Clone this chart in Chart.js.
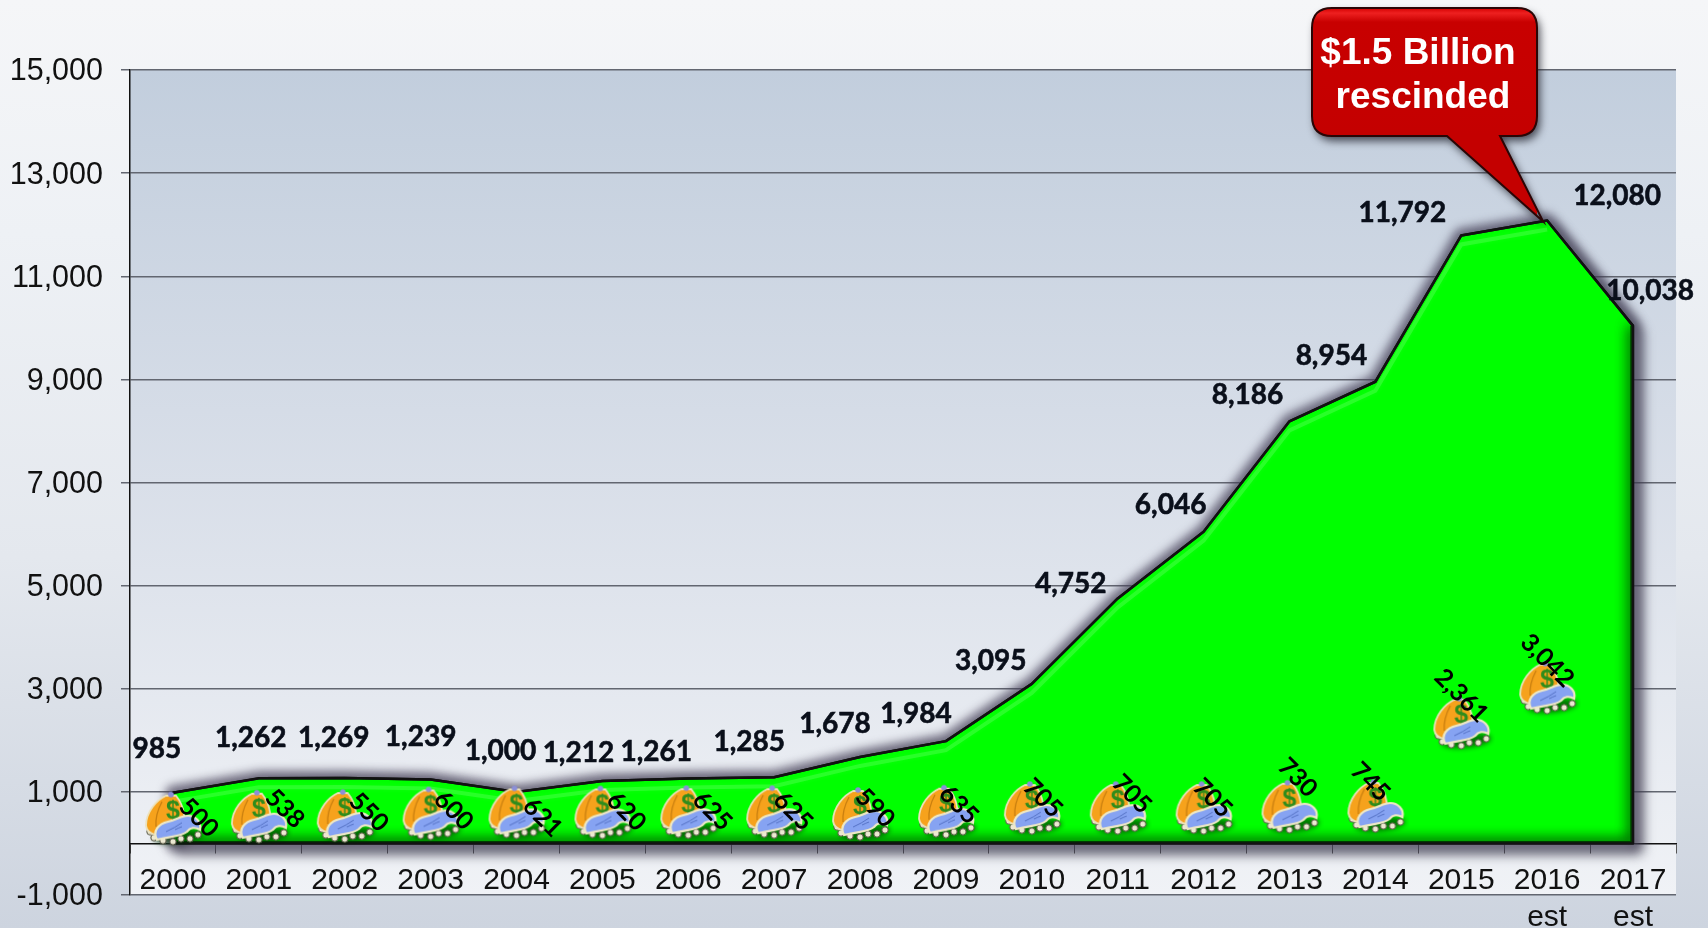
<!DOCTYPE html>
<html>
<head>
<meta charset="utf-8">
<script src="https://cdn.jsdelivr.net/npm/chart.js@4"></script>
<style>
  html, body { margin: 0; padding: 0; width: 1708px; height: 928px; overflow: hidden; }
  body { background: linear-gradient(to bottom, #f5f6f8 0%, #eef1f5 25%, #e4e8ee 60%, #cdd4df 100%); }
  canvas { display: block; }
</style>
</head>
<body>
<canvas id="mycanvas" width="1708" height="928"></canvas>
<script>
var years = ["2000","2001","2002","2003","2004","2005","2006","2007","2008","2009","2010","2011","2012","2013","2014","2015","2016","2017"];
var yearNotes = ["","","","","","","","","","","","","","","","","est","est"];
var totalValues = [985,1262,1269,1239,1000,1212,1261,1285,1678,1984,3095,4752,6046,8186,8954,11792,12080,10038];
var bagValues = [500,538,550,600,621,620,625,625,590,635,705,705,705,730,745,2361,3042,null];

// where each value label sits, relative to its point (picked by eye)
var totalLabelDx = [-16,-8,-11,-10,-16,-24,-32,-25,-25,-30,-41,-47,-33,-42,-44,-59,70,17];
var totalLabelDy = [-44,-40,-40,-43,-41,-28,-26,-35,-33,-27,-23,-14,-27,-26,-26,-22,-25,-35];
var bagLabelDx = [26,26,24,23,26,24,24,19,15,13,11,14,9,8,-5,0,0];
var bagLabelDy = [0,-7,-3,-2,6,0,0,0,-5,-6,-9,-13,-9,-28,-23,-26,-26];

var FONT_AXIS = '"Liberation Sans", Arial, sans-serif';
var FONT_LABEL = 'Lato, "Open Sans", sans-serif';

function makeBagIcon() {
  var c = document.createElement("canvas");
  c.width = 68; c.height = 68;
  var g = c.getContext("2d");
  g.translate(34, 33);

  // soft shadow under the whole icon
  g.save();
  g.filter = "blur(2.5px)";
  g.fillStyle = "rgba(0,50,0,0.65)";
  g.beginPath();
  g.ellipse(5, 20, 25, 7, -0.1, 0, Math.PI * 2);
  g.fill();
  g.restore();

  // stones under the cloth
  g.fillStyle = "#ece9d2";
  g.strokeStyle = "#4f4e3c";
  g.lineWidth = 1;
  var stones = [[-23,15],[-19,21],[-10,24],[0,25],[8,22],[17,22],[25,18]];
  stones.forEach(function (s) {
    g.beginPath();
    g.arc(s[0], s[1], 3.2, 0, Math.PI * 2);
    g.fill();
    g.stroke();
  });

  // bag
  g.beginPath();
  g.moveTo(-7, -21);
  g.bezierCurveTo(-16, -17, -27, -5, -27, 9);
  g.quadraticCurveTo(-26, 16, -18, 18);
  g.lineTo(8, 12);
  g.bezierCurveTo(14, 7, 12, -10, 3, -21);
  g.closePath();
  g.fillStyle = "#f6a21c";
  g.fill();
  g.strokeStyle = "#ece2bb";
  g.lineWidth = 1.8;
  g.stroke();

  // fold shading on the bag
  g.strokeStyle = "#c97f10";
  g.lineWidth = 1.3;
  g.beginPath();
  g.moveTo(-11, -15);
  g.quadraticCurveTo(-18, -2, -17, 10);
  g.stroke();

  // knot
  g.fillStyle = "#8b8fd8";
  g.beginPath();
  g.arc(-2, -22, 2.8, 0, Math.PI * 2);
  g.fill();

  // dollar sign
  g.fillStyle = "#2f8c1c";
  g.font = "bold 25px " + FONT_AXIS;
  g.textAlign = "center";
  g.textBaseline = "middle";
  g.fillText("$", 0, -5);

  // blue cloth
  g.beginPath();
  g.moveTo(-16, 23);
  g.bezierCurveTo(-21, 14, -14, 7, -5, 5);
  g.bezierCurveTo(4, 3, 8, -1, 15, -1);
  g.bezierCurveTo(22, -1, 29, 5, 27, 13);
  g.bezierCurveTo(22, 10, 17, 11, 14, 15);
  g.bezierCurveTo(8, 20, 0, 19, -16, 23);
  g.closePath();
  g.fillStyle = "#86a3f2";
  g.fill();
  g.strokeStyle = "#efe9c6";
  g.lineWidth = 2.2;
  g.stroke();

  g.strokeStyle = "#4f6cc0";
  g.lineWidth = 0.9;
  g.beginPath();
  g.moveTo(-7, 15);
  g.quadraticCurveTo(2, 11, 9, 6);
  g.moveTo(2, 13);
  g.quadraticCurveTo(6, 11, 9, 10);
  g.stroke();
  return c;
}

function areaPoints(chart) {
  return chart.getDatasetMeta(0).data;
}

function tracePolygon(chart, ctx) {
  var pts = areaPoints(chart);
  var base = chart.scales.y.getPixelForValue(0);
  ctx.beginPath();
  ctx.moveTo(pts[0].x, base);
  pts.forEach(function (p) { ctx.lineTo(p.x, p.y); });
  ctx.lineTo(pts[pts.length - 1].x, base);
  ctx.closePath();
}

// plot background gradient, runs before the grid
var plotBackground = {
  id: "plotBackground",
  beforeDraw: function (chart) {
    var a = chart.chartArea, ctx = chart.ctx;
    var grad = ctx.createLinearGradient(0, a.top, 0, a.bottom);
    grad.addColorStop(0, "#c2cedd");
    grad.addColorStop(0.5, "#d9dfe9");
    grad.addColorStop(1, "#f0f2f6");
    ctx.save();
    ctx.fillStyle = grad;
    ctx.fillRect(a.left, a.top, a.right - a.left, a.bottom - a.top);
    ctx.restore();
  }
};

// shadow + bevel around the green area
var areaEffects = {
  id: "areaEffects",
  beforeDatasetDraw: function (chart, args) {
    if (args.index !== 0) return;
    var ctx = chart.ctx;

    // halo all the way round
    ctx.save();
    ctx.filter = "blur(5px)";
    tracePolygon(chart, ctx);
    ctx.strokeStyle = "rgba(70,64,88,0.7)";
    ctx.lineWidth = 15;
    ctx.lineJoin = "round";
    ctx.stroke();
    ctx.restore();

    // heavier shadow to the lower right
    ctx.save();
    ctx.filter = "blur(6px)";
    ctx.translate(6, 7);
    tracePolygon(chart, ctx);
    ctx.strokeStyle = "rgba(50,48,66,0.6)";
    ctx.lineWidth = 9;
    ctx.lineJoin = "round";
    ctx.stroke();
    ctx.restore();

    // the blur also lands inside the shape, cover it again
    ctx.save();
    tracePolygon(chart, ctx);
    ctx.fillStyle = "#00ff00";
    ctx.fill();
    ctx.restore();
  },
  afterDatasetDraw: function (chart, args) {
    if (args.index !== 0) return;
    var ctx = chart.ctx, pts = areaPoints(chart);
    var base = chart.scales.y.getPixelForValue(0);
    var last = pts[pts.length - 1];
    ctx.save();
    tracePolygon(chart, ctx);
    ctx.clip();

    // light band just under the top edge
    ctx.beginPath();
    pts.forEach(function (p, i) {
      if (i === 0) ctx.moveTo(p.x, p.y + 9);
      else if (i < pts.length - 1) ctx.lineTo(p.x, p.y + 9);
    });
    ctx.strokeStyle = "rgba(130,255,130,0.28)";
    ctx.lineWidth = 4;
    ctx.shadowColor = "rgba(130,255,130,0.4)";
    ctx.shadowBlur = 4;
    ctx.stroke();

    // dark green along the right and bottom edges
    ctx.beginPath();
    ctx.moveTo(last.x, last.y);
    ctx.lineTo(last.x, base);
    ctx.lineTo(pts[0].x, base);
    ctx.strokeStyle = "#003c00";
    ctx.lineWidth = 5;
    ctx.shadowColor = "rgba(0,60,0,1)";
    ctx.shadowBlur = 14;
    ctx.stroke();
    ctx.stroke();
    ctx.restore();

    ctx.save();
    tracePolygon(chart, ctx);
    ctx.strokeStyle = "#111";
    ctx.lineWidth = 2.5;
    ctx.lineJoin = "round";
    ctx.stroke();
    ctx.restore();
  }
};

var valueLabels = {
  id: "valueLabels",
  afterDatasetsDraw: function (chart) {
    var ctx = chart.ctx;
    ctx.save();
    ctx.textAlign = "center";
    ctx.textBaseline = "middle";

    ctx.font = "700 28px " + FONT_LABEL;
    ctx.fillStyle = "#0a0f1a";
    ctx.strokeStyle = "#0a0f1a";
    ctx.lineWidth = 0.6;
    chart.getDatasetMeta(0).data.forEach(function (p, i) {
      var txt = totalValues[i].toLocaleString("en-US");
      ctx.fillText(txt, p.x + totalLabelDx[i], p.y + totalLabelDy[i]);
      ctx.strokeText(txt, p.x + totalLabelDx[i], p.y + totalLabelDy[i]);
    });

    ctx.font = "700 25px " + FONT_LABEL;
    ctx.fillStyle = "#000";
    chart.getDatasetMeta(1).data.forEach(function (p, i) {
      if (bagValues[i] === null) return;
      ctx.save();
      ctx.translate(p.x + bagLabelDx[i], p.y + bagLabelDy[i]);
      ctx.rotate(Math.PI / 4);
      ctx.fillText(bagValues[i].toLocaleString("en-US"), 0, 0);
      ctx.restore();
    });
    ctx.restore();
  }
};

// red speech bubble pointing at the 2016 point
var calloutPlugin = {
  id: "calloutPlugin",
  afterDraw: function (chart) {
    var ctx = chart.ctx;
    var tip = chart.getDatasetMeta(0).data[16];
    var L = 1312, R = 1537, T = 8, B = 136, r = 20;
    function path() {
      ctx.beginPath();
      ctx.moveTo(L + r, T);
      ctx.lineTo(R - r, T);
      ctx.quadraticCurveTo(R, T, R, T + r);
      ctx.lineTo(R, B - r);
      ctx.quadraticCurveTo(R, B, R - r, B);
      ctx.lineTo(1500, B);
      ctx.lineTo(tip.x - 4, tip.y + 1);
      ctx.lineTo(1447, B);
      ctx.lineTo(L + r, B);
      ctx.quadraticCurveTo(L, B, L, B - r);
      ctx.lineTo(L, T + r);
      ctx.quadraticCurveTo(L, T, L + r, T);
      ctx.closePath();
    }
    ctx.save();
    ctx.filter = "blur(4px)";
    ctx.translate(3, 5);
    path();
    ctx.fillStyle = "rgba(25,25,35,0.75)";
    ctx.fill();
    ctx.restore();

    ctx.save();
    path();
    ctx.clip();
    var grad = ctx.createLinearGradient(0, T, 0, B);
    grad.addColorStop(0, "#d40000");
    grad.addColorStop(0.04, "#ee2020");
    grad.addColorStop(0.11, "#c80000");
    grad.addColorStop(1, "#c40000");
    ctx.fillStyle = grad;
    ctx.fillRect(L, T, R - L, tip.y - T);
    ctx.restore();

    ctx.save();
    path();
    ctx.strokeStyle = "#2a0606";
    ctx.lineWidth = 2;
    ctx.stroke();
    ctx.fillStyle = "#fff";
    ctx.font = "bold 37px " + FONT_AXIS;
    ctx.textAlign = "center";
    ctx.textBaseline = "middle";
    ctx.fillText("$1.5 Billion", 1418, 54);
    ctx.fillText("rescinded", 1423, 98);
    ctx.restore();
  }
};

var tickLabels = years.map(function (y, i) {
  return yearNotes[i] ? [y, yearNotes[i]] : y;
});

var ctx = document.getElementById("mycanvas");
var barGraph = new Chart(ctx, {
  type: "line",
  data: {
    labels: tickLabels,
    datasets: [
      {
        label: "Total",
        data: totalValues,
        order: 2,
        fill: "origin",
        backgroundColor: "#00ff00",
        borderColor: "#111",
        borderWidth: 2.5,
        pointRadius: 0,
        tension: 0
      },
      {
        label: "Bags",
        data: bagValues,
        order: 1,
        showLine: false,
        pointStyle: makeBagIcon(),
        pointRadius: 27
      }
    ]
  },
  options: {
    responsive: false,
    animation: false,
    events: [],
    layout: { padding: { top: 70, right: 32, bottom: 33, left: 0 } },
    plugins: {
      legend: { display: false },
      tooltip: { enabled: false },
      title: { display: false }
    },
    scales: {
      x: {
        position: { y: 0 },
        offset: true,
        border: { color: "#111", width: 1.5 },
        grid: { drawOnChartArea: false, drawTicks: true, tickLength: 9, tickColor: "#555", offset: true },
        ticks: {
          autoSkip: false,
          maxRotation: 0,
          padding: 10,
          color: "#111",
          font: { family: FONT_AXIS, size: 30, lineHeight: 1.23 }
        }
      },
      y: {
        min: -1000,
        max: 15000,
        afterFit: function (scale) { scale.width = 130; },
        border: { color: "#111", width: 1.5 },
        grid: { color: "#626670", lineWidth: 1.5, tickLength: 9, tickColor: "#626670" },
        ticks: {
          stepSize: 2000,
          padding: 18,
          labelOffset: 2,
          color: "#111",
          font: { family: FONT_AXIS, size: 30.5, lineHeight: 0.9 },
          callback: function (v) { return v.toLocaleString("en-US"); }
        }
      }
    }
  },
  plugins: [plotBackground, areaEffects, valueLabels, calloutPlugin]
});
</script>
</body>
</html>
